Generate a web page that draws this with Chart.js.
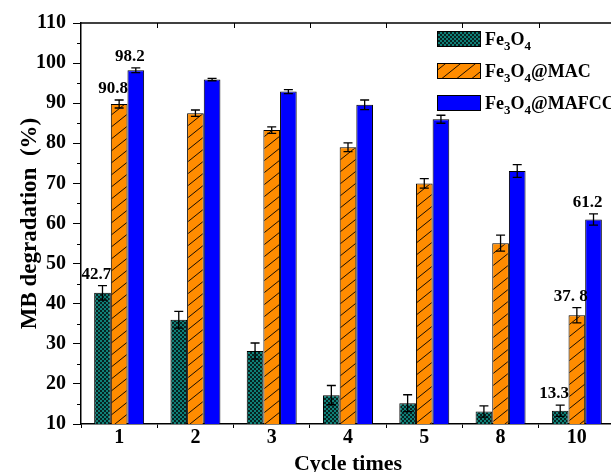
<!DOCTYPE html>
<html>
<head>
<meta charset="utf-8">
<script src="https://cdn.jsdelivr.net/npm/chart.js@4/dist/chart.umd.min.js"></script>
<style>
  html, body { margin: 0; padding: 0; background: #fff; overflow: hidden; }
  #wrap { width: 611px; height: 472px; overflow: hidden; position: relative; }
  canvas { display: block; }
</style>
</head>
<body>
<div id="wrap"><canvas id="c" width="618" height="472"></canvas></div>
<script>
// ---- data ----
const categories = ['1', '2', '3', '4', '5', '8', '10'];
const seriesNames = ['Fe3O4', 'Fe3O4@MAC', 'Fe3O4@MAFCC'];
const fe3o4 = [42.7, 36.0, 28.2, 17.2, 15.2, 13.1, 13.3];
const mac = [89.8, 87.5, 83.3, 79.0, 70.0, 55.1, 37.1];
const mafcc = [98.2, 95.9, 92.9, 89.6, 86.0, 73.1, 61.0];
const fe3o4Err = [1.8, 2.1, 2.0, 2.4, 2.1, 1.4, 1.4];
const macErr = [1.0, 0.8, 0.8, 1.1, 1.2, 2.0, 1.9];
const mafccErr = [0.6, 0.3, 0.5, 1.2, 1.0, 1.6, 1.4];
const yTicks = [10, 20, 30, 40, 50, 60, 70, 80, 90, 100, 110];
const valueLabels = [
  { series: 0, index: 0, text: '42.7' },
  { series: 1, index: 0, text: '90.8' },
  { series: 2, index: 0, text: '98.2' },
  { series: 0, index: 6, text: '13.3' },
  { series: 1, index: 6, text: '37. 8' },
  { series: 2, index: 6, text: '61.2' }
];
const errors = [fe3o4Err, macErr, mafccErr];

const FONT = "'Liberation Serif', 'Times New Roman', serif";

// ---- patterns ----
function tealPattern() {
  const c = document.createElement('canvas');
  c.width = 4; c.height = 4;
  const g = c.getContext('2d');
  g.fillStyle = '#062220';
  g.fillRect(0, 0, 4, 4);
  g.fillStyle = '#0f8078';
  g.fillRect(0, 0, 2, 2);
  g.fillRect(2, 2, 2, 2);
  return g.createPattern(c, 'repeat');
}
function orangePattern() {
  const w = 15, h = 12;
  const c = document.createElement('canvas');
  c.width = w; c.height = h;
  const g = c.getContext('2d');
  g.fillStyle = '#ff8c00';
  g.fillRect(0, 0, w, h);
  g.strokeStyle = '#1a0d00';
  g.lineWidth = 1;
  g.beginPath();
  g.moveTo(-w, 2 * h); g.lineTo(2 * w, -h);
  g.moveTo(-2 * w, 2 * h); g.lineTo(w, -h);
  g.moveTo(0, 2 * h); g.lineTo(3 * w, -h);
  g.stroke();
  return g.createPattern(c, 'repeat');
}
const fills = [tealPattern(), orangePattern(), '#0000ff'];

// ---- plugins ----
const errorBars = {
  id: 'errorBars',
  afterDatasetsDraw(chart) {
    const ctx = chart.ctx;
    const y = chart.scales.y;
    ctx.save();
    ctx.strokeStyle = '#000';
    ctx.lineWidth = 1.3;
    chart.data.datasets.forEach((ds, di) => {
      const meta = chart.getDatasetMeta(di);
      meta.data.forEach((el, i) => {
        const v = ds.data[i], e = errors[di][i];
        const yt = y.getPixelForValue(v + e), yb = y.getPixelForValue(v - e);
        const x = el.x;
        ctx.beginPath();
        ctx.moveTo(x, yt); ctx.lineTo(x, yb);
        ctx.moveTo(x - 4.5, yt); ctx.lineTo(x + 4.5, yt);
        ctx.moveTo(x - 4.5, yb); ctx.lineTo(x + 4.5, yb);
        ctx.stroke();
      });
    });
    // value labels
    ctx.fillStyle = '#000';
    ctx.font = "bold 17px " + FONT;
    ctx.textAlign = 'center';
    ctx.textBaseline = 'alphabetic';
    valueLabels.forEach(l => {
      const el = chart.getDatasetMeta(l.series).data[l.index];
      const v = chart.data.datasets[l.series].data[l.index];
      const yt = y.getPixelForValue(v + errors[l.series][l.index]);
      ctx.fillText(l.text, el.x - 6, yt - 7);
    });
    ctx.restore();
  }
};

function drawSubText(ctx, text, x, yBase, size, subSize) {
  const parts = text.match(/[A-Za-z@]+|\d+/g);
  let cx = x;
  let prevLetters = false;
  parts.forEach(p => {
    const isSub = /^\d+$/.test(p) && prevLetters;
    if (isSub) {
      ctx.font = "bold " + subSize + "px " + FONT;
      ctx.fillText(p, cx, yBase + 5);
    } else {
      ctx.font = "bold " + size + "px " + FONT;
      ctx.fillText(p, cx, yBase);
    }
    cx += ctx.measureText(p).width;
    prevLetters = !/^\d+$/.test(p);
  });
}

const frame = {
  id: 'frame',
  afterDraw(chart) {
    const ctx = chart.ctx;
    const a = chart.chartArea;
    const y = chart.scales.y;
    ctx.save();
    ctx.strokeStyle = '#000';
    ctx.lineWidth = 1.5;
    ctx.beginPath();
    ctx.moveTo(a.left, a.top); ctx.lineTo(a.right + 2, a.top);
    ctx.stroke();
    ctx.lineWidth = 1;
    ctx.beginPath();
    // minor y ticks
    for (let i = 0; i < yTicks.length - 1; i++) {
      const py = Math.round(y.getPixelForValue((yTicks[i] + yTicks[i + 1]) / 2)) + 0.5;
      ctx.moveTo(a.left - 4, py); ctx.lineTo(a.left, py);
    }
    // top inward ticks at category boundaries
    const n = categories.length;
    const w = (a.right - a.left) / n;
    for (let i = 1; i < n; i++) {
      const px = Math.round(a.left + i * w) + 0.5;
      ctx.moveTo(px, a.top); ctx.lineTo(px, a.top + 5);
    }
    ctx.stroke();
    // legend
    const lx = a.right - 178, ly = a.top + 8;
    seriesNames.forEach((name, i) => {
      const top = ly + i * 32;
      ctx.fillStyle = fills[i];
      ctx.fillRect(lx, top, 44, 16);
      ctx.strokeStyle = '#000';
      ctx.lineWidth = 1;
      ctx.strokeRect(lx + 0.5, top + 0.5, 43, 15);
      ctx.fillStyle = '#000';
      ctx.textAlign = 'left';
      ctx.textBaseline = 'alphabetic';
      drawSubText(ctx, name, lx + 48, top + 14, 18, 13);
    });
    ctx.restore();
  }
};

new Chart(document.getElementById('c'), {
  type: 'bar',
  data: {
    labels: categories,
    datasets: [fe3o4, mac, mafcc].map((d, i) => ({
      label: seriesNames[i],
      data: d,
      backgroundColor: fills[i],
      borderColor: '#000',
      borderWidth: 1,
      categoryPercentage: 0.655,
      barPercentage: 1.0
    }))
  },
  options: {
    responsive: false,
    animation: false,
    devicePixelRatio: 1,
    layout: { padding: { top: 23, right: 3, left: 0, bottom: 0 } },
    plugins: { legend: { display: false }, tooltip: { enabled: false } },
    scales: {
      x: {
        offset: true,
        grid: { display: true, drawOnChartArea: false, drawTicks: true, tickLength: 4, color: '#000', tickWidth: 1 },
        border: { display: true, color: '#000', width: 1.5 },
        ticks: { color: '#000', padding: 0, font: { family: FONT, size: 20, weight: 'bold', lineHeight: 1 } },
        title: { display: true, text: 'Cycle times', color: '#000', padding: { top: 0, bottom: 0 },
                 font: { family: FONT, size: 22, weight: 'bold', lineHeight: 0.7 } },
        afterFit(s) { s.height = 48; }
      },
      y: {
        min: 10, max: 110,
        afterBuildTicks(s) { s.ticks = yTicks.map(v => ({ value: v })); },
        grid: { display: true, drawOnChartArea: false, drawTicks: true, tickLength: 8, color: '#000', tickWidth: 1 },
        border: { display: true, color: '#000', width: 1.5 },
        ticks: { color: '#000', padding: 7, font: { family: FONT, size: 20, weight: 'bold' } },
        title: { display: true, text: 'MB degradation  (%)', color: '#000', padding: { top: 16, bottom: 0 },
                 font: { family: FONT, size: 23, weight: 'bold' } },
        afterFit(s) { s.width = 81; }
      }
    }
  },
  plugins: [errorBars, frame]
});
</script>
</body>
</html>
